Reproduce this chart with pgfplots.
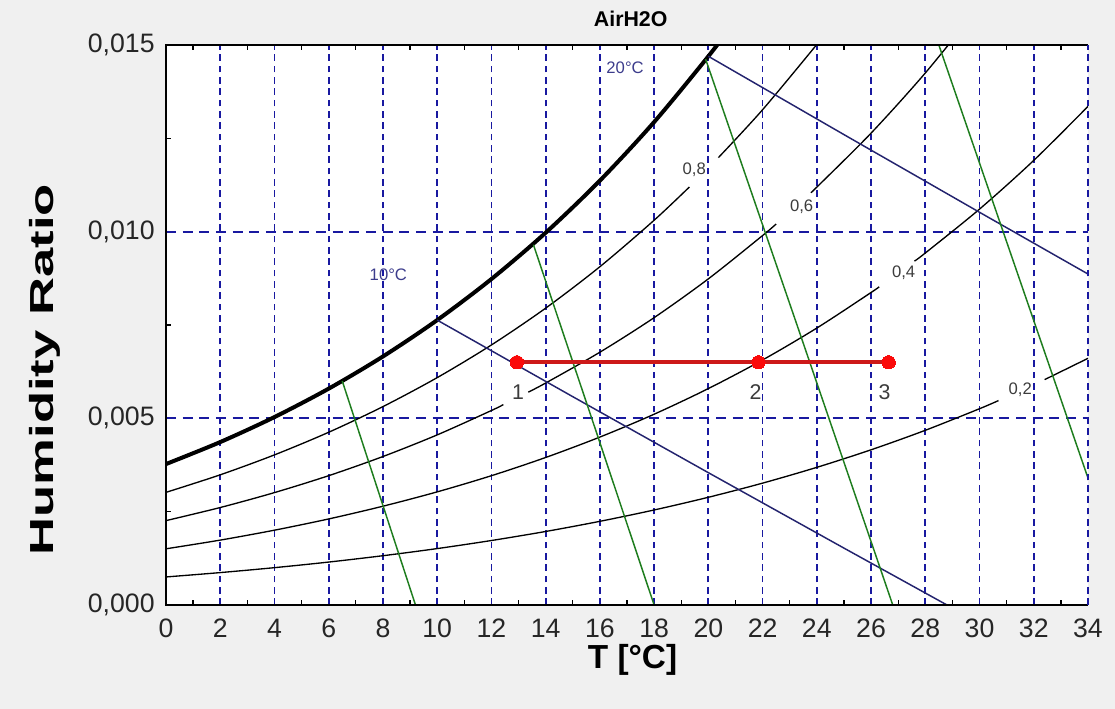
\documentclass[border=0pt]{standalone}
\usepackage{fontspec}
\setmainfont{Liberation Sans}
\usepackage{graphicx}
\usepackage{pgfplots}
\pgfplotsset{compat=1.18}

\definecolor{bgc}{RGB}{240,240,240}
\definecolor{gridc}{RGB}{25,25,160}
\definecolor{wbc}{RGB}{35,35,110}
\definecolor{vc}{RGB}{30,125,30}
\definecolor{procc}{RGB}{205,25,25}
\definecolor{ptc}{RGB}{250,10,10}
\definecolor{labc}{RGB}{60,60,60}
\definecolor{tlabc}{RGB}{60,60,140}

\begin{document}
\begin{tikzpicture}
\fill[bgc] (-124.5pt,-78pt) rectangle (711.75pt,453.75pt);
\begin{axis}[
  name=ax, at={(0pt,0pt)}, anchor=south west,
  scale only axis, width=691.5pt, height=420pt,
  xmin=0, xmax=34, ymin=0, ymax=0.015,
  axis background/.style={fill=white},
  axis line style={draw=none},
  xtick={0,2,...,34}, ytick={0,0.005,0.01,0.015},
  minor x tick num=1, minor y tick num=1,
  xtick pos=both, ytick pos=left, tick align=inside,
  major tick length=0pt, minor tick length=4pt,
  minor tick style={black, line width=1pt},
  grid=major,
  x grid style={gridc, line width=1.3pt, dash pattern=on 5pt off 3.5pt},
  y grid style={gridc, line width=1.3pt, dash pattern=on 7.5pt off 5pt},
  scaled y ticks=false,
  /pgf/number format/assume math mode=true,
  ticklabel style={font=\fontsize{20}{22}\selectfont, text=black!85},
  xticklabel style={yshift=-7pt},
  yticklabel style={/pgf/number format/fixed, /pgf/number format/fixed zerofill,
    /pgf/number format/precision=3, /pgf/number format/use comma, xshift=-5pt},
  xlabel={T [°C]},
  xlabel style={at={(axis description cs:0.506,-0.098)}, anchor=center, font=\bfseries\fontsize{25}{28}\selectfont},
  ylabel={\scalebox{1.58}[1]{Humidity Ratio}},
  ylabel style={at={(axis description cs:-0.131,0.42)}, anchor=center, font=\bfseries\fontsize{25}{28}\selectfont},
  title={AirH2O},
  title style={at={(axis description cs:0.504,1.032)}, anchor=center, font=\bfseries\fontsize{16}{18}\selectfont},
]
% saturation curve
\addplot[black, line width=3pt, smooth] coordinates {
(0,0.003775) (2,0.004364) (4,0.005034) (6,0.005795) (8,0.006657) (10,0.007631)
(12,0.008731) (14,0.009971) (16,0.011367) (18,0.012936) (20,0.014697) (21,0.015656)};
% relative humidity 0.8
\addplot[black, line width=1pt, smooth] coordinates {
(0,0.003017) (2,0.003487) (4,0.004021) (6,0.004627) (8,0.005314) (10,0.006090)
(12,0.006965) (14,0.007951) (16,0.009061) (18,0.010306) (19.3,0.011196)};
\addplot[black, line width=1pt, smooth] coordinates {
(20.37,0.011983) (22,0.013266) (24,0.015014)};
% relative humidity 0.6
\addplot[black, line width=1pt, smooth] coordinates {
(0,0.002260) (2,0.002611) (4,0.003011) (6,0.003464) (8,0.003977) (10,0.004556)
(12,0.005209) (12.44,0.005368)};
\addplot[black, line width=1pt, smooth] coordinates {
(13.36,0.005702) (14,0.005945) (16,0.006771) (18,0.007697) (20,0.008736)
(22,0.009896) (22.5,0.010205)};
\addplot[black, line width=1pt, smooth] coordinates {
(23.8,0.011057) (24,0.011193) (26,0.012639) (28,0.014250) (30,0.016043)};
% relative humidity 0.4
\addplot[black, line width=1pt, smooth] coordinates {
(0,0.001505) (2,0.001738) (4,0.002004) (6,0.002305) (8,0.002646) (10,0.003030)
(12,0.003463) (14,0.003951) (16,0.004498) (18,0.005110) (20,0.005797)
(22,0.006563) (24,0.007418) (26,0.008370) (26.3,0.008524)};
\addplot[black, line width=1pt, smooth] coordinates {
(27.6,0.009211) (28,0.009428) (30,0.010604) (32,0.011909) (34,0.013356)};
% relative humidity 0.2
\addplot[black, line width=1pt, smooth] coordinates {
(0,0.000751) (2,0.000868) (4,0.001000) (6,0.001150) (8,0.001320) (10,0.001511)
(12,0.001727) (14,0.001969) (16,0.002241) (18,0.002545) (20,0.002885)
(22,0.003264) (24,0.003687) (26,0.004157) (28,0.004679) (30,0.005257) (30.7,0.005476)};
\addplot[black, line width=1pt, smooth] coordinates {
(32.4,0.006036) (34,0.006607)};
% wet bulb lines
\addplot[wbc, line width=1.1pt] coordinates {
(10,0.007631) (15,0.005580) (20,0.003544) (25,0.001524) (28.8,0)};
\addplot[wbc, line width=1.1pt] coordinates {
(20,0.014697) (25,0.012600) (30,0.010519) (34,0.008865)};
% specific volume lines
\addplot[vc, line width=1.1pt] coordinates {(6.5,0.00600) (7.85,0.003) (9.2,0)};
\addplot[vc, line width=1.1pt] coordinates {(13.55,0.00965) (15.7,0.005) (18.0,0)};
\addplot[vc, line width=1.1pt] coordinates {(19.9,0.01462) (23.27,0.0075) (26.8,0)};
\addplot[vc, line width=1.1pt] coordinates {(28.5,0.015) (31.25,0.0092) (34,0.0034)};
% process
\addplot[procc, line width=3pt, mark=*, mark size=5pt, mark options={ptc, fill=ptc, line width=0pt}]
coordinates {(12.94,0.0065) (21.85,0.0065) (26.65,0.0065)};
% labels
\node[font=\fontsize{12.5}{14}\selectfont, text=labc] at (axis cs:19.48,0.01165) {0,8};
\node[font=\fontsize{12.5}{14}\selectfont, text=labc] at (axis cs:23.44,0.01066) {0,6};
\node[font=\fontsize{12.5}{14}\selectfont, text=labc] at (axis cs:27.2,0.00889) {0,4};
\node[font=\fontsize{12.5}{14}\selectfont, text=labc] at (axis cs:31.5,0.00576) {0,2};
\node[font=\fontsize{12.5}{14}\selectfont, text=tlabc] at (axis cs:8.2,0.00884) {10°C};
\node[font=\fontsize{12.5}{14}\selectfont, text=tlabc] at (axis cs:16.93,0.01438) {20°C};
\node[font=\fontsize{16}{18}\selectfont, text=labc] at (axis cs:12.98,0.00571) {1};
\node[font=\fontsize{16}{18}\selectfont, text=labc] at (axis cs:21.74,0.00571) {2};
\node[font=\fontsize{16}{18}\selectfont, text=labc] at (axis cs:26.5,0.00569) {3};
\end{axis}
\draw[black, line width=1.5pt] (ax.south east) -- (ax.south west) -- (ax.north west) -- (ax.north east);
\draw[gridc, line width=2pt, dash pattern=on 5pt off 3.5pt] (ax.south east) -- (ax.north east);
\pgfresetboundingbox
\useasboundingbox (-124.5pt,-78pt) rectangle (711.75pt,453.75pt);
\end{tikzpicture}
\end{document}
